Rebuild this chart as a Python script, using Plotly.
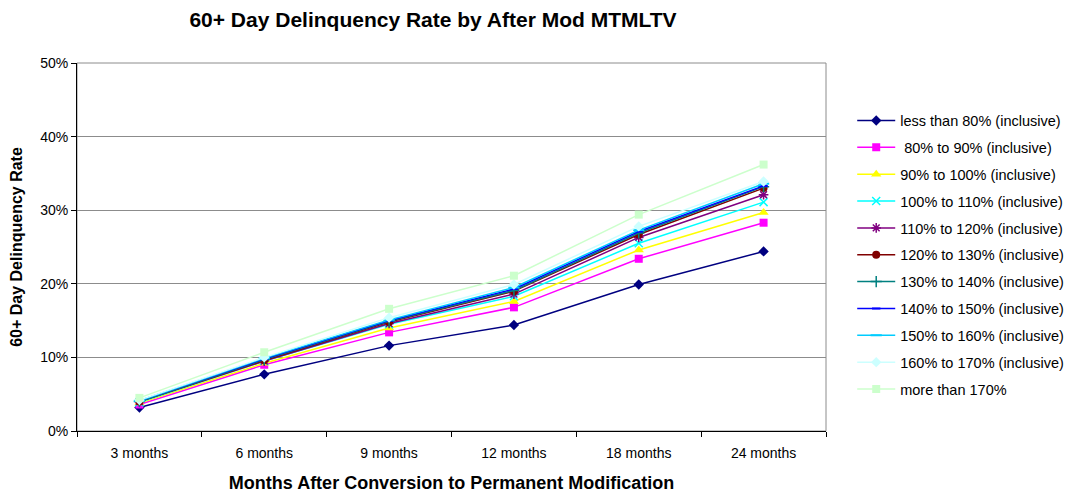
import plotly.graph_objects as go

categories = ["3 months", "6 months", "9 months", "12 months", "18 months", "24 months"]

series_names = [
    "less than 80% (inclusive)",
    " 80% to 90% (inclusive)",
    "90% to 100% (inclusive)",
    "100% to 110% (inclusive)",
    "110% to 120% (inclusive)",
    "120% to 130% (inclusive)",
    "130% to 140% (inclusive)",
    "140% to 150% (inclusive)",
    "150% to 160% (inclusive)",
    "160% to 170% (inclusive)",
    "more than 170%",
]

lt80 = [3.2, 7.7, 11.6, 14.4, 19.9, 24.4]
r80_90 = [3.6, 9.0, 13.4, 16.8, 23.4, 28.3]
r90_100 = [3.8, 9.2, 14.0, 17.6, 24.6, 29.7]
r100_110 = [3.9, 9.5, 14.5, 18.3, 25.5, 31.1]
r110_120 = [4.0, 9.5, 14.6, 18.6, 26.3, 32.1]
r120_130 = [4.0, 9.6, 14.8, 19.0, 26.7, 33.0]
r130_140 = [4.0, 9.7, 14.9, 19.1, 26.9, 33.2]
r140_150 = [4.1, 9.8, 15.0, 19.3, 27.1, 33.3]
r150_160 = [4.1, 9.9, 15.1, 19.5, 27.3, 33.6]
r160_170 = [4.2, 10.0, 15.4, 19.9, 27.8, 33.9]
gt170 = [4.5, 10.7, 16.6, 21.1, 29.4, 36.2]

series_values = [lt80, r80_90, r90_100, r100_110, r110_120, r120_130,
                 r130_140, r140_150, r150_160, r160_170, gt170]

colors = ["#000080", "#FF00FF", "#FFFF00", "#00FFFF", "#800080", "#800000",
          "#008080", "#0000FF", "#00CCFF", "#CCFFFF", "#CCFFCC"]
symbols = ["diamond", "square", "triangle-up", "x-thin-open", "asterisk-open",
           "circle", "cross-thin-open", "line-ew-open", "line-ew-open", "diamond", "square"]
sizes = [8, 8, 9, 8, 8, 8, 8, 6, 8, 8, 8]

FONT = "Liberation Sans, Arial, sans-serif"

# Page body has an 8px margin; the figure is sized so the plot area lands
# where the reference draws it.
W, H = 1065, 485

fig = go.Figure()
for i, (name, vals) in enumerate(zip(series_names, series_values)):
    sym = symbols[i]
    marker = dict(symbol=sym, size=sizes[i], color=colors[i])
    if sym.endswith("-open"):
        marker["line"] = dict(color=colors[i], width=2 if "line-ew" in sym else 1.5)
    fig.add_trace(go.Scatter(
        x=categories, y=[v / 100 for v in vals], name=name,
        mode="lines+markers",
        line=dict(color=colors[i], width=1.5),
        marker=marker,
        legendgroup=f"g{i}",
    ))

fig.update_layout(
    width=W, height=H,
    margin=dict(l=69, r=247, t=55, b=62, autoexpand=False),
    paper_bgcolor="white", plot_bgcolor="white",
    font=dict(family=FONT, size=14, color="black"),
    title=dict(text="<b>60+ Day Delinquency Rate by After Mod MTMLTV</b>",
               x=(433 - 8) / W, xanchor="center", y=1 - 12 / H, yanchor="middle",
               font=dict(size=21, family=FONT)),
    showlegend=True,
    legend=dict(x=1.035, xanchor="left", y=0.478, yanchor="middle",
                bgcolor="rgba(0,0,0,0)", tracegroupgap=5,
                font=dict(size=14.5, family=FONT), itemwidth=38),
    xaxis=dict(
        type="category", tickson="boundaries", ticks="outside", ticklen=5,
        tickcolor="black", showline=True, linecolor="black", linewidth=1,
        showgrid=False, range=[-0.5, 5.5], ticklabelstandoff=9, automargin=False,
        title=dict(text="<b>Months After Conversion to Permanent Modification</b>",
                   font=dict(size=18, family=FONT), standoff=17),
        tickfont=dict(size=14),
    ),
    yaxis=dict(
        range=[0, 0.5], dtick=0.1, tickformat=".0%", ticks="outside", ticklen=5,
        tickcolor="black", showline=True, linecolor="black", linewidth=1,
        showgrid=True, gridcolor="#8C8C8C", gridwidth=1, zeroline=False, automargin=False,
        title=dict(text="<b>60+ Day Delinquency Rate</b>",
                   font=dict(size=16, family=FONT), standoff=14),
        tickfont=dict(size=14),
    ),
    shapes=[dict(type="rect", xref="paper", yref="paper", x0=0, x1=1, y0=0, y1=1,
                 line=dict(color="#8C8C8C", width=1), layer="below")],
)

fig.write_html("out.html")
